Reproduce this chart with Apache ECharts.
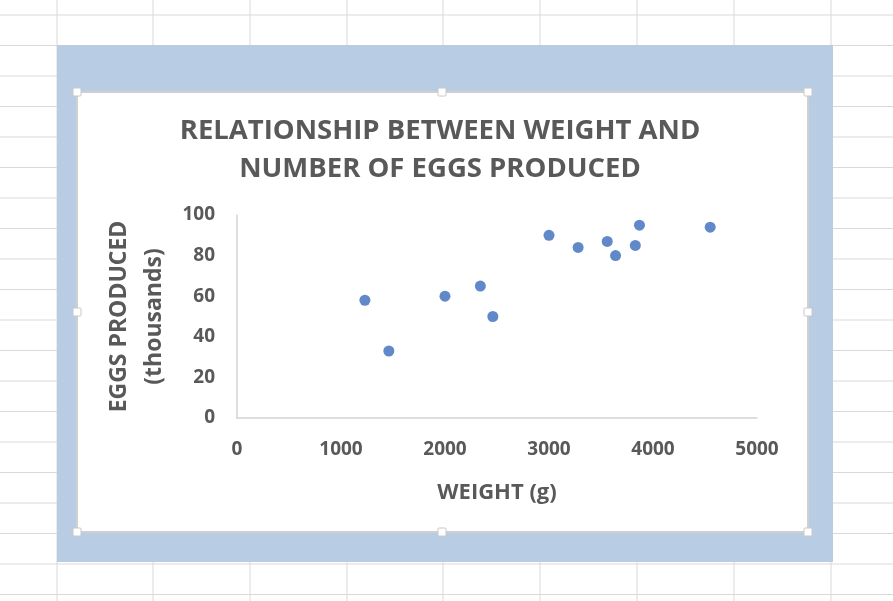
<!DOCTYPE html>
<html>
<head>
<meta charset="utf-8">
<script src="https://cdn.jsdelivr.net/npm/echarts@6/dist/echarts.min.js"></script>
<style>
  html, body { margin: 0; padding: 0; background: #fff; }
  #main { width: 893px; height: 601px; }
</style>
</head>
<body>
<div id="main"></div>
<script>
// weight (g) and eggs produced (thousands)
var weights = [1230, 1460, 2000, 2340, 2460, 3000, 3280, 3560, 3640, 3830, 3870, 4550];
var eggs    = [58,   33,   60,   65,   50,   90,   84,   87,   80,   85,   95,   94];
var xTicks = [0, 1000, 2000, 3000, 4000, 5000];
var yTicks = [0, 20, 40, 60, 80, 100];

var points = weights.map(function (w, i) { return [w, eggs[i]]; });

var chart = echarts.init(document.getElementById('main'));

// spreadsheet background: cell lines, blue selection, chart frame with handles
var bg = [];
var colX = [57, 153, 250, 347, 443, 540, 637, 734, 831];
for (var i = 0; i < colX.length; i++) {
  bg.push({ type: 'line', shape: { x1: colX[i], y1: 0, x2: colX[i], y2: 601 },
    style: { stroke: '#d9d9d9', lineWidth: 1 }, z: -10 });
}
for (var y = 15; y < 601; y += 30.5) {
  bg.push({ type: 'line', shape: { x1: 0, y1: y, x2: 893, y2: y },
    style: { stroke: '#d9d9d9', lineWidth: 1 }, z: -10 });
}
bg.push({ type: 'rect', shape: { x: 57, y: 45, width: 776, height: 517 },
  style: { fill: '#b8cce4' }, z: -9 });
bg.push({ type: 'rect', shape: { x: 77, y: 92, width: 731, height: 440 },
  style: { fill: '#fff', stroke: '#d0d0d0', lineWidth: 2 }, z: -8 });
var hx = [77, 442, 808], hy = [92, 312, 532];
hx.forEach(function (x) {
  hy.forEach(function (yy) {
    if (x === 442 && yy === 312) return;
    bg.push({ type: 'rect', shape: { x: x - 4, y: yy - 4, width: 8, height: 8, r: 1 },
      style: { fill: '#fff', stroke: '#c8c8c8', lineWidth: 1 }, z: -7 });
  });
});

var option = {
  animation: false,
  backgroundColor: '#fff',
  graphic: bg,
  title: {
    text: 'RELATIONSHIP BETWEEN WEIGHT AND\nNUMBER OF EGGS PRODUCED',
    left: 435,
    top: 107,
    textAlign: 'center',
    textStyle: {
      fontFamily: 'Open Sans',
      fontWeight: 'bold',
      fontSize: 27.5,
      lineHeight: 38,
      color: '#595959'
    }
  },
  grid: { left: 237, right: 136, top: 215, bottom: 183 },
  xAxis: {
    type: 'value',
    min: xTicks[0],
    max: xTicks[xTicks.length - 1],
    interval: 1000,
    name: 'WEIGHT (g)',
    nameLocation: 'middle',
    nameGap: 64,
    nameTextStyle: { fontFamily: 'Open Sans', fontWeight: 'bold', fontSize: 22, color: '#595959' },
    axisLine: { lineStyle: { color: '#d4d4d4', width: 1.5 } },
    axisTick: { show: false },
    splitLine: { show: false },
    axisLabel: { margin: 22, formatter: function (v) { return String(v); },
      fontFamily: 'Open Sans', fontWeight: 'bold', fontSize: 19, color: '#595959' }
  },
  yAxis: {
    type: 'value',
    min: yTicks[0],
    max: yTicks[yTicks.length - 1],
    interval: 20,
    name: 'EGGS PRODUCED\n(thousands)',
    nameLocation: 'middle',
    nameGap: 61,
    nameRotate: 90,
    nameTextStyle: { fontFamily: 'Open Sans', fontWeight: 'bold', fontSize: 23, lineHeight: 35, color: '#595959' },
    axisLine: { show: true, lineStyle: { color: '#d4d4d4', width: 1.5 } },
    axisTick: { show: false },
    splitLine: { show: false },
    axisLabel: { margin: 22, formatter: function (v) { return String(v); },
      fontFamily: 'Open Sans', fontWeight: 'bold', fontSize: 19, color: '#595959' }
  },
  series: [{
    type: 'scatter',
    data: points,
    symbol: 'circle',
    symbolSize: 11,
    itemStyle: { color: '#3a6cbc' }
  }]
};

chart.setOption(option);
</script>
</body>
</html>
